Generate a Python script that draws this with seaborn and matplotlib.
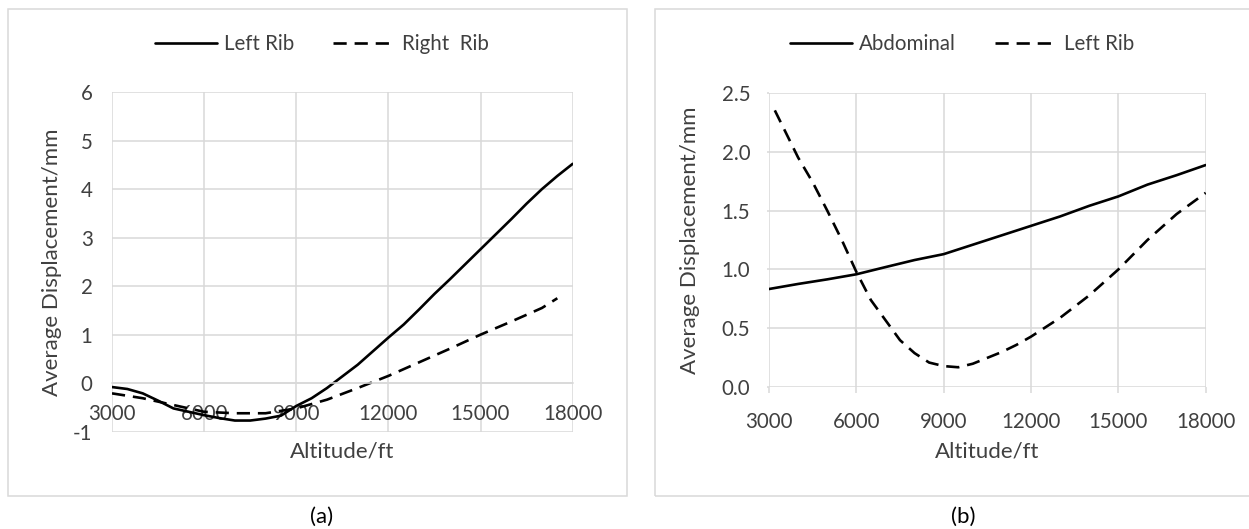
import numpy as np
import pandas as pd
import matplotlib
matplotlib.use("Agg")
import matplotlib.pyplot as plt
import seaborn as sns
from matplotlib.patches import Rectangle

# ---------------- data ----------------
# Panel (a)
alt_a_left = [3000, 3500, 4000, 4500, 5000, 5500, 6000, 6500, 7000, 7500, 8000, 8500,
              9000, 9500, 10000, 10500, 11000, 11500, 12000, 12500, 13000, 13500, 14000,
              14500, 15000, 15500, 16000, 16500, 17000, 17500, 18000]
left_rib_a = [-0.08, -0.12, -0.21, -0.36, -0.52, -0.59, -0.66, -0.72, -0.77, -0.77, -0.73, -0.67,
              -0.47, -0.31, -0.10, 0.14, 0.38, 0.66, 0.94, 1.21, 1.52, 1.84, 2.14,
              2.45, 2.76, 3.07, 3.38, 3.70, 4.00, 4.27, 4.52]
alt_a_right = [3000, 4000, 5000, 6000, 7000, 8000, 9000, 10000, 11000, 12000, 13000,
               14000, 15000, 16000, 17000, 17500]
right_rib_a = [-0.21, -0.31, -0.45, -0.59, -0.62, -0.62, -0.52, -0.34, -0.10, 0.15, 0.43,
               0.71, 1.00, 1.27, 1.55, 1.75]

# Panel (b)
alt_b_abd = [3000, 4000, 5000, 6000, 7000, 8000, 9000, 10000, 11000, 12000, 13000,
             14000, 15000, 16000, 17000, 18000]
abdominal_b = [0.834, 0.877, 0.916, 0.959, 1.02, 1.08, 1.13, 1.21, 1.29, 1.37, 1.45,
               1.54, 1.62, 1.72, 1.80, 1.886]
alt_b_rib = [3200, 3500, 4000, 4500, 5000, 5500, 6000, 6500, 7000, 7500, 8000, 8500, 9000,
             9500, 10000, 10500, 11000, 11500, 12000, 13000, 14000, 15000, 16000, 17000, 18000]
left_rib_b = [2.35, 2.20, 1.95, 1.74, 1.50, 1.25, 0.98, 0.74, 0.57, 0.40, 0.29, 0.21, 0.18,
              0.17, 0.20, 0.25, 0.30, 0.36, 0.43, 0.59, 0.78, 1.00, 1.25, 1.47, 1.65]

x_ticks = [3000, 6000, 9000, 12000, 15000, 18000]
y_ticks_a = [-1, 0, 1, 2, 3, 4, 5, 6]
y_ticks_b = [0.0, 0.5, 1.0, 1.5, 2.0, 2.5]

# ---------------- style ----------------
sns.set_theme(style="white")
plt.rcParams['font.family'] = ['Lato', 'DejaVu Sans']

GRID = '#d9d9d9'
TXT = '#404040'
LW = 1.9
DASH = (5.0, 3.0)

fig = plt.figure(figsize=(12.49, 5.29), dpi=100)

# panel borders
fig.patches.append(Rectangle((8 / 1249, 1 - 495.7 / 529), (627.3 - 8) / 1249, (495.7 - 9.3) / 529,
                             transform=fig.transFigure, fill=False, edgecolor=GRID, linewidth=1.1))
fig.patches.append(Rectangle((654.7 / 1249, 1 - 495.7 / 529), (1260 - 654.7) / 1249, (495.7 - 9.3) / 529,
                             transform=fig.transFigure, fill=False, edgecolor=GRID, linewidth=1.1,
                             clip_on=False))

ax1 = fig.add_axes([112 / 1249, 1 - 431.7 / 529, (572.7 - 112) / 1249, (431.7 - 92) / 529])
ax2 = fig.add_axes([769 / 1249, 1 - 387.3 / 529, (1205.7 - 769) / 1249, (387.3 - 92.7) / 529])


def style_axes(ax, yticks, ylim):
    ax.set_xlim(3000, 18000)
    ax.set_ylim(*ylim)
    ax.set_xticks(x_ticks)
    ax.set_yticks(yticks)
    ax.grid(True, color=GRID, linewidth=1.1)
    ax.set_axisbelow(True)
    for s in ax.spines.values():
        s.set_visible(False)
    ax.tick_params(axis='both', labelsize=14.8, colors=TXT, labelcolor=TXT)
    ax.set_xlabel('Altitude/ft', fontsize=16, color=TXT)
    ax.set_ylabel('Average Displacement/mm', fontsize=16, color=TXT)


# ---- panel (a)
df_a1 = pd.DataFrame({'alt': alt_a_left, 'disp': left_rib_a})
df_a2 = pd.DataFrame({'alt': alt_a_right, 'disp': right_rib_a})
sns.lineplot(data=df_a1, x='alt', y='disp', ax=ax1, color='black', linewidth=LW, label='Left Rib')
sns.lineplot(data=df_a2, x='alt', y='disp', ax=ax1, color='black', linewidth=LW, label='Right  Rib')
ax1.lines[-1].set_dashes(DASH)
style_axes(ax1, y_ticks_a, (-1, 6))
ax1.set_yticklabels([str(v) for v in y_ticks_a])
ax1.tick_params(axis='x', length=0, pad=15)
ax1.tick_params(axis='y', length=0, pad=14)
ax1.spines['bottom'].set_position(('data', 0))
ax1.spines['bottom'].set_visible(True)
ax1.spines['bottom'].set_color(GRID)
ax1.spines['bottom'].set_linewidth(1.1)
ax1.xaxis.set_label_coords(0.5, -0.03)
ax1.yaxis.set_label_coords(-0.108, 0.5)

# ---- panel (b)
df_b1 = pd.DataFrame({'alt': alt_b_abd, 'disp': abdominal_b})
df_b2 = pd.DataFrame({'alt': alt_b_rib, 'disp': left_rib_b})
sns.lineplot(data=df_b1, x='alt', y='disp', ax=ax2, color='black', linewidth=LW, label='Abdominal')
sns.lineplot(data=df_b2, x='alt', y='disp', ax=ax2, color='black', linewidth=LW, label='Left Rib')
ax2.lines[-1].set_dashes(DASH)
style_axes(ax2, y_ticks_b, (0, 2.5))
ax2.set_yticklabels([f'{v:.1f}' for v in y_ticks_b])
ax2.tick_params(axis='x', length=4, width=1.1, color=GRID, pad=14, bottom=True)
ax2.tick_params(axis='y', length=1.5, width=1.1, color=GRID, pad=12, left=True)
ax2.xaxis.set_label_coords(0.5, -0.185)
ax2.yaxis.set_label_coords(-0.158, 0.5)

# legends
for ax, cx in ((ax1, 322 / 1249), (ax2, 962 / 1249)):
    leg = ax.legend(loc='center', bbox_to_anchor=(cx, 1 - 44 / 529), bbox_transform=fig.transFigure,
                    ncol=2, frameon=False, fontsize=14.8, handlelength=3.0, handletextpad=0.35,
                    columnspacing=1.9, borderaxespad=0, borderpad=0)
    for t in leg.get_texts():
        t.set_color(TXT)
    for h in leg.get_lines():
        h.set_linewidth(LW)
    leg.get_lines()[1].set_dashes(DASH)

# captions
fig.text(321.7 / 1249, 1 - 516.7 / 529, '(a)', ha='center', va='center', fontsize=16, color='black')
fig.text(963 / 1249, 1 - 517 / 529, '(b)', ha='center', va='center', fontsize=16, color='black')

fig.savefig('out.png', dpi=100)
